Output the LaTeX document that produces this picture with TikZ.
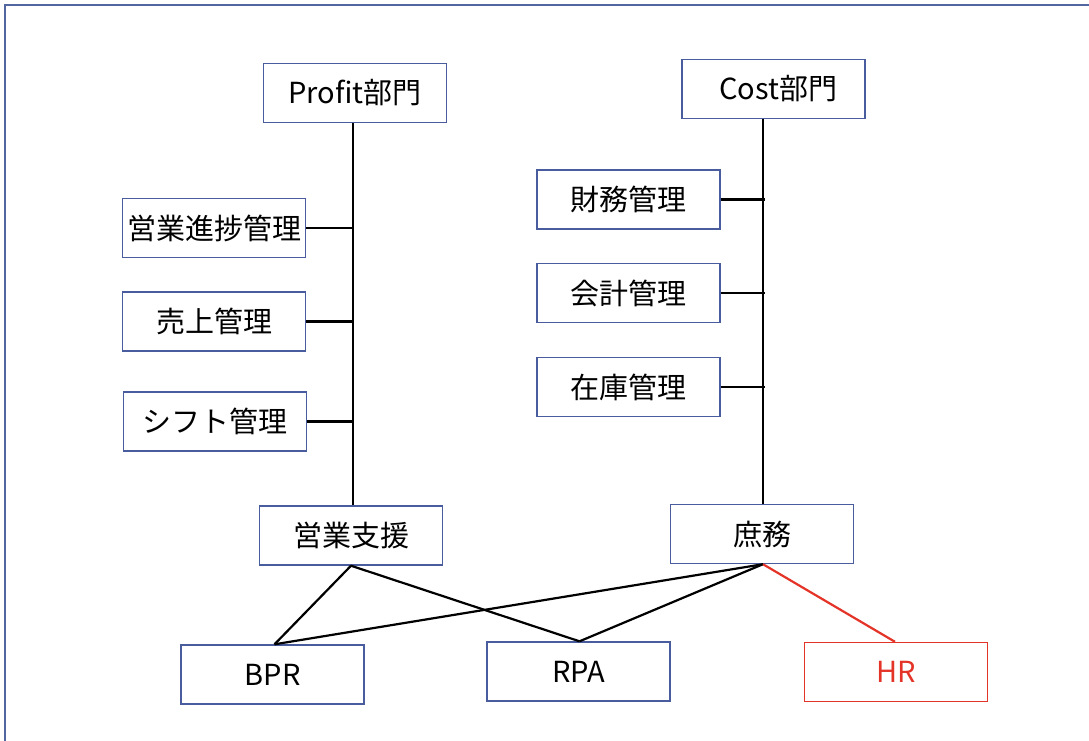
\documentclass[tikz,border=0pt]{standalone}
\usepackage{fontspec}
\newfontfamily\jp{Noto Sans CJK JP}
\definecolor{boxblue}{RGB}{72,92,158}
\definecolor{framblue}{RGB}{82,102,162}
\definecolor{hrred}{RGB}{228,52,40}
\tikzset{
  unit/.style={draw=boxblue, line width=1.4pt, fill=white, inner sep=0pt,
    minimum width=183pt, minimum height=59pt,
    font=\jp\fontsize{29}{32}\selectfont},
  link/.style={line width=2.2pt, black},
}
\begin{document}
\begin{tikzpicture}[x=1pt,y=-1pt]
\useasboundingbox (0,0) rectangle (1089,740);
% outer frame, running off the right and bottom edges
\draw[framblue, line width=2pt] (5,1200) -- (5,5) -- (1200,5);

% top-level departments
\node[unit] (prof) at (355,93) {Profit部門};
\node[unit] (cost) at (773.5,89) {\hspace*{9pt}Cost部門};

% profit-side functions
\node[unit] (s1) at (214,228) {営業進捗管理};
\node[unit] (s2) at (214,321.5) {売上管理};
\node[unit] (s3) at (215,421.5) {シフト管理};

% cost-side functions
\node[unit] (c1) at (628.5,199.5) {財務管理};
\node[unit] (c2) at (628.5,293) {会計管理};
\node[unit] (c3) at (628.5,387) {在庫管理};

% support units
\node[unit] (sup) at (351,535.5) {営業支援};
\node[unit] (gen) at (762,534) {庶務};

% initiatives
\node[unit] (bpr) at (272.5,674.5) {BPR};
\node[unit] (rpa) at (578.5,671.5) {RPA};
\node[unit, draw=hrred, text=hrred] (hr) at (896,672) {HR};

% spine ends
\coordinate (lbot) at ([xshift=2pt]sup.north);
\coordinate (rbot) at ([xshift=1pt]gen.north);

% spines
\draw[link] (lbot |- prof.south) -- (lbot);
\draw[link] (rbot |- cost.south) -- (rbot);

% branches
\foreach \n in {s1,s2,s3}
  \draw[link] (\n.east) -- (\n.east -| lbot);
\foreach \n in {c1,c2,c3}
  \draw[link] (\n.east) -- ([xshift=2pt]\n.east -| rbot);

% links to initiatives
\draw[link] (sup.south) -- ([xshift=2pt]bpr.north);
\draw[link] (sup.south) -- ([xshift=1pt]rpa.north);
\draw[link] ([xshift=1pt]gen.south) -- ([xshift=2pt]bpr.north);
\draw[link] ([xshift=1pt]gen.south) -- ([xshift=1pt]rpa.north);
\draw[link, hrred] ([xshift=1pt]gen.south) -- ([xshift=-1pt]hr.north);
\end{tikzpicture}
\end{document}
